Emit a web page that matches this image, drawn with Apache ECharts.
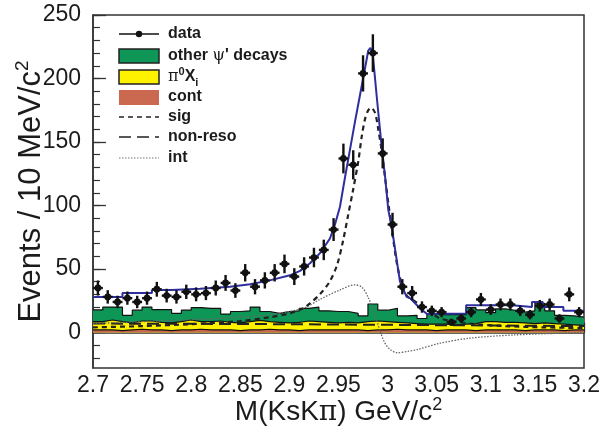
<!DOCTYPE html>
<html>
<head>
<meta charset="utf-8">
<script src="https://cdn.jsdelivr.net/npm/echarts@6/dist/echarts.min.js"></script>
<style>
html,body{margin:0;padding:0;background:#fff}
#chart{width:600px;height:437px}
</style>
</head>
<body>
<div id="chart"></div>
<script>
// Binning of the M(KsKπ) spectrum, GeV/c^2
const massMin = 2.70, massMax = 3.20, binWidth = 0.01;

// Observed events per 10 MeV/c^2 bin
const dataEvents = [35, 28, 24, 27, 24, 27, 34, 29, 28, 32,
                    30, 31, 35, 39, 33, 47, 36, 41, 47, 54,
                    44, 52, 59, 65, 81, 137, 132, 204, 220, 141,
                    85, 36, 31, 20, 17, 16, 8, 11, 16, 26,
                    18, 22, 22, 17, 14, 21, 22, 11, 30, 16];

// Background histograms (events per bin), stacked from the bottom up
const contEvents = [2, 2, 1.5, 2, 2.5, 2, 2, 1.5, 2, 2,
                    2.5, 2, 2, 2, 1.5, 2, 2, 2.5, 2, 2,
                    1.5, 2, 2, 2, 2, 2, 2, 1.5, 2, 2,
                    2.5, 2, 2, 2, 1.5, 2, 2, 2, 1.5, 2,
                    2, 2, 2, 1.5, 2, 2, 2, 1.5, 2, 2];
const pi0XiEvents = [6.5, 7.8, 7, 5.5, 6.5, 7, 6, 6, 6.5, 7.8,
                     6, 6.5, 7, 6, 6, 6.5, 7.5, 6, 6, 5.5,
                     6.5, 7, 6.5, 6, 5.5, 6, 5.5, 7, 7, 6.5,
                     5.5, 5.5, 5, 4.5, 5, 4.5, 4, 4.5, 5.5, 6.5,
                     6.5, 6, 6, 6, 5, 5.5, 5, 5, 4, 3.5];
const otherPsiEvents = [9.2, 10.2, 11.5, 6, 8.5, 11, 10, 10.5, 6.5, 7.7,
                        11, 10.5, 10, 6.5, 9, 8.5, 10.5, 8, 7, 9,
                        9, 10, 11.5, 9, 9, 8.5, 7.5, 4.5, 13.4, 9,
                        11, 5.5, 6.5, 4.5, 8, 7.5, 8, 7.5, 12.5, 9.2,
                        7.1, 10.5, 9.5, 8.5, 10, 15.5, 10, 7, 7, 6.5];

// Fit components as [mass, events] samples
const sigCurve = [[2.70, 4], [2.75, 5], [2.80, 6.5], [2.85, 9], [2.88, 12], [2.90, 15],
                  [2.914, 19], [2.921, 23], [2.931, 30], [2.941, 40], [2.9485, 53], [2.9546, 72],
                  [2.9597, 92], [2.9648, 112], [2.9702, 135], [2.9736, 154], [2.977, 168],
                  [2.9803, 175], [2.9831, 177], [2.9872, 173], [2.9905, 160], [2.994, 143],
                  [2.9974, 122], [3.0007, 102], [3.0042, 82], [3.0093, 55], [3.0144, 38],
                  [3.0194, 29], [3.033, 22], [3.0432, 16], [3.0534, 11], [3.07, 8.5],
                  [3.09, 6.5], [3.12, 5], [3.16, 4], [3.20, 3.5]];
const nonResoCurve = [[2.70, 7], [2.80, 6.8], [2.90, 6.5], [3.00, 6], [3.10, 5.5], [3.20, 5]];
const intCurve = [[2.70, 7], [2.75, 8.5], [2.80, 10], [2.85, 12], [2.88, 14], [2.914, 19],
                  [2.931, 26], [2.9515, 33.5], [2.9668, 37.5], [2.974, 35.5], [2.98, 28],
                  [2.987, 14], [2.992, 2], [2.997, -8], [3.002, -13], [3.0096, -16],
                  [3.02, -15], [3.03, -13.5], [3.0534, -8.5], [3.084, -4.5], [3.128, -2],
                  [3.20, 0]];
const totalFit = [[2.70, 28], [2.73, 28], [2.73, 31], [2.76, 31], [2.76, 33.5], [2.78, 33.5],
                  [2.809, 34.5], [2.8395, 36], [2.86, 38], [2.88, 41], [2.9006, 45],
                  [2.9108, 48.5], [2.921, 54.5], [2.9312, 62.5], [2.9413, 74], [2.9464, 85],
                  [2.9515, 99], [2.9566, 122], [2.9617, 144], [2.9668, 166], [2.9719, 187],
                  [2.977, 208], [2.9803, 222], [2.9825, 224], [2.9848, 220], [2.9889, 186],
                  [2.994, 146], [2.9974, 123], [3.0007, 96.5], [3.0042, 83], [3.0093, 57],
                  [3.0126, 40], [3.0194, 28], [3.0228, 27], [3.033, 19], [3.0401, 14.5],
                  [3.08, 15], [3.08, 21.5], [3.127, 21.5], [3.127, 20], [3.147, 20],
                  [3.147, 24], [3.158, 24], [3.158, 20], [3.179, 20], [3.179, 17], [3.20, 17]];

// Axis ticks
const yTickLabels = [0, 50, 100, 150, 200, 250];
const yMinorTicks = [-20, -10, 0, 10, 20, 30, 40, 50, 60, 70, 80, 90, 100, 110, 120, 130,
                     140, 150, 160, 170, 180, 190, 200, 210, 220, 230, 240, 250];

const FONT = '"Liberation Sans", Arial, Helvetica, sans-serif';
const INK = '#1b1b1b';

// Cumulative stack heights: each layer is drawn from zero, upper layers first
const stackCont = contEvents.slice();
const stackPi0 = stackCont.map((v, i) => v + pi0XiEvents[i]);
const stackOther = stackPi0.map((v, i) => v + otherPsiEvents[i]);

// Step outline of a histogram: one point per lower bin edge, closed at the upper limit
function histPoints(vals) {
  const pts = vals.map((v, i) => [+(massMin + i * binWidth).toFixed(3), v]);
  pts.push([massMax, vals[vals.length - 1]]);
  return pts;
}

function histSeries(name, vals, fill, z) {
  return {
    type: 'line', name: name, step: 'end',
    data: histPoints(vals), symbol: 'none', silent: true,
    lineStyle: { color: '#111', width: 1.2 },
    areaStyle: { color: fill, opacity: 1, origin: 0 },
    z: z
  };
}

function curveSeries(name, pts, style, smooth, z) {
  return {
    type: 'line', name: name, data: pts, symbol: 'none', silent: true,
    smooth: smooth, lineStyle: style, z: z
  };
}

// Points with sqrt(N) vertical errors and bin-width horizontal bars
function renderPoint(params, api) {
  const x = api.value(0), n = api.value(1), e = Math.sqrt(n);
  const c = api.coord([x, n]);
  const t = api.coord([x, n + e]);
  const b = api.coord([x, n - e]);
  const l = api.coord([x - binWidth / 2, n]);
  const r = api.coord([x + binWidth / 2, n]);
  return {
    type: 'group',
    children: [
      { type: 'line', shape: { x1: c[0], y1: t[1], x2: c[0], y2: b[1] }, style: { stroke: '#111', lineWidth: 2.4 } },
      { type: 'line', shape: { x1: l[0], y1: c[1], x2: r[0], y2: c[1] }, style: { stroke: '#111', lineWidth: 2.4 } },
      { type: 'circle', shape: { cx: c[0], cy: c[1], r: 3.4 }, style: { fill: '#111' } }
    ]
  };
}

// Legend drawn as graphic elements
const legX0 = 119, legX1 = 159, legText = 168;
const legendFont = 'bold 16px ' + FONT;
function legLabel(y, text, rich) {
  return { type: 'text', x: legText, y: y,
    style: { text: text, font: legendFont, fill: INK, verticalAlign: 'middle', align: 'left', rich: rich || {} } };
}
const legendItems = [
  { type: 'line', shape: { x1: legX0, y1: 34, x2: legX1, y2: 34 }, style: { stroke: '#111', lineWidth: 1.6 } },
  { type: 'circle', shape: { cx: (legX0 + legX1) / 2, cy: 34, r: 3.2 }, style: { fill: '#111' } },
  legLabel(34, 'data'),
  { type: 'rect', shape: { x: legX0, y: 49, width: legX1 - legX0, height: 14 }, style: { fill: '#0E9657', stroke: '#222', lineWidth: 1.5 } },
  legLabel(56, 'other {g|ψ}\' decays', { g: { fontFamily: '"DejaVu Serif", serif', fontWeight: 'normal', fontSize: 16 } }),
  { type: 'rect', shape: { x: legX0, y: 70, width: legX1 - legX0, height: 14 }, style: { fill: '#FFF200', stroke: '#222', lineWidth: 1.5 } },
  legLabel(77, '{p|π}{sup|0}X{sub|i}', {
    p: { fontFamily: '"DejaVu Serif", serif', fontWeight: 'normal', fontSize: 16, lineHeight: 22 },
    sup: { fontSize: 11, fontWeight: 'bold', verticalAlign: 'top', lineHeight: 22 },
    sub: { fontSize: 11, fontWeight: 'bold', verticalAlign: 'bottom', lineHeight: 22 }
  }),
  { type: 'rect', shape: { x: legX0, y: 90, width: legX1 - legX0, height: 15 }, style: { fill: '#CB6950' } },
  legLabel(97, 'cont'),
  { type: 'line', shape: { x1: legX0, y1: 117, x2: legX1, y2: 117 }, style: { stroke: '#222', lineWidth: 1.6, lineDash: [5, 4] } },
  legLabel(117, 'sig'),
  { type: 'line', shape: { x1: legX0, y1: 137, x2: legX1, y2: 137 }, style: { stroke: '#222', lineWidth: 1.6, lineDash: [12, 6] } },
  legLabel(137, 'non-reso'),
  { type: 'line', shape: { x1: legX0, y1: 158, x2: legX1, y2: 158 }, style: { stroke: '#777', lineWidth: 1.2, lineDash: [1.5, 1.5] } },
  legLabel(158, 'int')
];

const chart = echarts.init(document.getElementById('chart'), null, { renderer: 'canvas' });
chart.setOption({
  animation: false,
  backgroundColor: '#fff',
  grid: { left: 93, right: 16, top: 15, bottom: 69, containLabel: false, outerBoundsMode: 'none',
          show: true, borderColor: '#333', borderWidth: 1.5, backgroundColor: 'transparent' },
  xAxis: {
    type: 'value', min: massMin, max: massMax, interval: 0.05,
    axisLine: { lineStyle: { color: '#333', width: 1.5 } },
    axisTick: { inside: true, length: 10, lineStyle: { color: '#333', width: 1.3 } },
    minorTick: { show: true, splitNumber: 5, length: 5, lineStyle: { color: '#333', width: 1.2 } },
    splitLine: { show: false },
    axisLabel: { fontSize: 23, fontFamily: FONT, color: INK, margin: 6, showMinLabel: true, showMaxLabel: true,
      formatter: v => String(parseFloat(v.toFixed(2))) },
    name: 'M(KsK{p|π}) GeV/c{sup|2}', nameLocation: 'middle', nameGap: 28, nameMoveOverlap: false,
    nameTextStyle: { fontSize: 28, fontFamily: FONT, color: INK,
      rich: { p: { fontSize: 28, fontFamily: '"DejaVu Serif", serif', color: INK, lineHeight: 33 },
              sup: { fontSize: 18, fontFamily: FONT, color: INK, verticalAlign: 'top', lineHeight: 33 } } }
  },
  yAxis: [{
    type: 'value', min: -28, max: 250,
    axisLine: { show: true, lineStyle: { color: '#333', width: 1.5 } },
    axisTick: { show: true, inside: true, length: 13, customValues: yTickLabels, lineStyle: { color: '#333', width: 1.3 } },
    axisLabel: { customValues: yTickLabels, fontSize: 23, fontFamily: FONT, color: INK, margin: 12 },
    splitLine: { show: false },
    name: 'Events / 10 MeV/c{sup|2}', nameLocation: 'middle', nameGap: 44, nameRotate: 90, nameMoveOverlap: false,
    nameTextStyle: { fontSize: 31, fontFamily: FONT, color: INK,
      rich: { sup: { fontSize: 19, fontFamily: FONT, color: INK, verticalAlign: 'top', lineHeight: 36 } } }
  }, {
    type: 'value', min: -28, max: 250, position: 'left',
    axisLine: { show: false },
    axisTick: { show: true, inside: true, length: 7, customValues: yMinorTicks, lineStyle: { color: '#333', width: 1.2 } },
    axisLabel: { show: false },
    splitLine: { show: false }
  }],
  series: [
    histSeries('other ψ\' decays', stackOther, '#0E9657', 1),
    histSeries('π0Xi', stackPi0, '#FFF200', 2),
    histSeries('cont', stackCont, '#CB6950', 3),
    curveSeries('non-reso', nonResoCurve, { color: '#222', width: 2, type: [12, 6] }, false, 4),
    curveSeries('int', intCurve, { color: '#666', width: 1.3, type: [1.5, 1.5] }, 0.3, 4),
    curveSeries('sig', sigCurve, { color: '#222', width: 2.2, type: [5, 4] }, 0.3, 5),
    curveSeries('total', totalFit, { color: '#2E2E9E', width: 2 }, false, 6),
    {
      type: 'custom', name: 'data', renderItem: renderPoint, z: 10,
      data: dataEvents.map((n, i) => [+(massMin + (i + 0.5) * binWidth).toFixed(3), n])
    }
  ],
  graphic: legendItems
});
</script>
</body>
</html>
